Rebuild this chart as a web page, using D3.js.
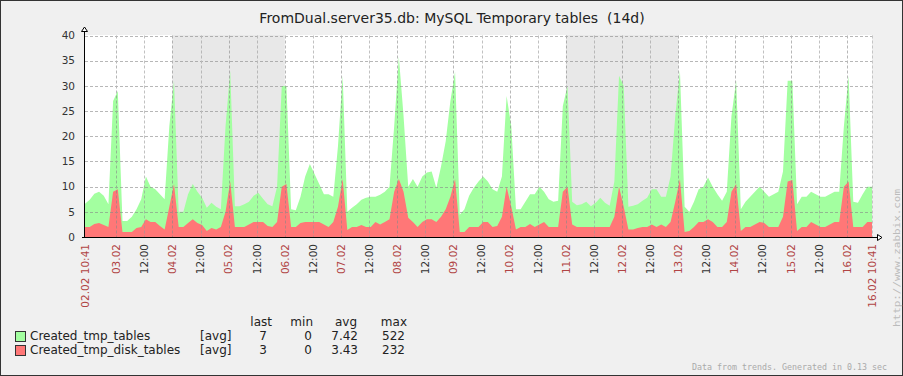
<!DOCTYPE html>
<html><head><meta charset="utf-8">
<script src="https://cdn.jsdelivr.net/npm/d3@7"></script>
<style>
html,body{margin:0;padding:0;background:#f0f0f0;}
svg{display:block;font-family:'DejaVu Sans',sans-serif;}
</style></head>
<body>
<svg id="chart" width="903" height="376"></svg>
<script>
// ---- data ----
const title = "FromDual.server35.db: MySQL Temporary tables  (14d)";
const startTime = Date.UTC(2012, 1, 2, 10, 41);
const stepHours = 2;
const totalHours = 336;
const yTicks = [0, 5, 10, 15, 20, 25, 30, 35, 40];
const weekendStarts = ["2012-02-04", "2012-02-11"];
const weekendDays = 2;

// one row = one day (12 samples, 2 h apart)
const tmpTables = [
  6.6, 7.4, 8.6, 9, 8.2, 6.5, 27, 29, 3.2, 3.2, 4, 5.5,
  7.5, 12, 10, 9.5, 8.5, 7.5, 22, 31, 5, 5, 8.5, 10.5,
  9, 7.8, 5.8, 6.8, 6, 5.5, 22, 33, 6.1, 6.1, 6.5, 7,
  8.2, 8.8, 7.6, 6.5, 6.1, 10, 30, 30, 5.5, 5.3, 8, 12,
  14.5, 12.5, 10.5, 8.5, 8.5, 8, 18, 32, 5, 5.8, 6.5, 7.4,
  7.8, 8, 8, 8.4, 9, 10, 22, 35.8, 24, 10, 11.5, 10,
  12, 12.8, 13, 9.8, 14, 19, 27, 32.8, 4.4, 5.5, 8.2, 9.8,
  11, 12, 11, 9.5, 9, 12, 28, 22, 5.5, 5.5, 7, 8.5,
  8.5, 10, 9, 7.5, 7, 7.2, 26, 30, 7, 6.3, 6.5, 7,
  6.1, 6.8, 7.8, 6.8, 6.2, 11, 32, 30, 6, 6.2, 6.5, 7.2,
  7.8, 9.5, 9.5, 8, 8, 12, 24, 33, 6, 5, 7, 9.5,
  10, 11.8, 10, 8.5, 7.2, 9, 24, 31, 5.5, 7, 8, 9,
  10, 9, 8, 8.5, 9, 13, 31, 31, 6.5, 8, 8, 9,
  8.5, 8, 8, 8.5, 9, 9, 22, 32, 7, 6.8, 8.5, 10,
  10
];
const tmpDiskTables = [
  2, 2, 2.6, 2.8, 2.4, 2, 9, 9.5, 1, 1, 1, 1.8,
  2, 3.5, 3, 3, 2.2, 1.5, 6, 10.5, 2, 2, 2.8, 3.5,
  2.8, 2.4, 1.2, 1.8, 1.5, 2, 5, 11, 2, 2, 2, 2.5,
  3, 3, 3, 2.2, 2, 3, 10, 10.5, 2, 2, 2.8, 3,
  3, 3, 3, 2.5, 2, 3, 6, 11.5, 1.4, 2, 2, 2.4,
  2, 2, 3, 2.5, 3, 3.5, 9, 11.5, 9, 3.8, 3, 2,
  3, 3.5, 3.5, 3, 4, 5.5, 8, 11.5, 1, 1, 2, 2,
  2, 3, 3, 2, 2.2, 4, 10, 6, 1.5, 2, 2, 2.6,
  2, 2.5, 3, 2, 2, 2, 9, 10, 2.5, 2, 2, 2,
  2, 2, 2, 2, 2, 4, 10, 6, 1.5, 1.5, 1.8, 2,
  2, 2.5, 2, 2.5, 2, 3, 7, 11.5, 1, 1.2, 2, 3,
  3, 3.5, 3, 2, 2, 3, 9, 10.5, 1.2, 2, 2, 2.5,
  3, 2.8, 2, 2, 2, 4, 11, 11.3, 1.2, 2, 2, 3,
  2.5, 2, 2, 2.5, 3, 3, 10, 11, 2, 2, 2, 3,
  3
];
const seriesNames = ["Created_tmp_tables", "Created_tmp_disk_tables"];
const seriesFunc = ["[avg]", "[avg]"];
const statHeaders = ["last", "min", "avg", "max"];
const statLast = ["7", "3"];
const statMin = ["0", "0"];
const statAvg = ["7.42", "3.43"];
const statMax = ["522", "232"];
const footer = "Data from trends. Generated in 0.13 sec";
const urlText = "http://www.zabbix.com";

// ---- styles ----
const GREEN = "#a3ffa0", RED = "#ff7777";
const DAYRED = "#b04444", TXT = "#222";

const svg = d3.select("#chart");
const W = 903, H = 376;
const L = 85, R = 872, T = 35.5, B = 237;

svg.append("rect").attr("x", 0.5).attr("y", 0.5).attr("width", W - 1).attr("height", H - 1)
  .attr("fill", "#f0f0f0").attr("stroke", "#333");

const t0 = new Date(startTime), t1 = new Date(startTime + totalHours * 3600e3);
const x = d3.scaleUtc().domain([t0, t1]).range([L, R]);
const y = d3.scaleLinear().domain([0, 40]).range([B, T]);

// plot background
svg.append("rect").attr("x", L).attr("y", T - 0.5).attr("width", R - L).attr("height", B - T + 0.5).attr("fill", "#fff");

// weekend shading
weekendStarts.forEach(s => {
  const a = new Date(s + "T00:00:00Z");
  const b = d3.utcDay.offset(a, weekendDays);
  svg.append("rect").attr("x", x(a)).attr("y", T - 0.5).attr("width", x(b) - x(a)).attr("height", B - T + 0.5)
    .attr("fill", "#e8e8e8");
});

// series
const mk = arr => arr.map((v, i) => ({ t: new Date(startTime + i * stepHours * 3600e3), v }));
const area = d3.area().x(d => x(d.t)).y0(y(0)).y1(d => y(d.v)).curve(d3.curveLinear);
svg.append("path").datum(mk(tmpTables)).attr("d", area).attr("fill", GREEN);
svg.append("path").datum(mk(tmpDiskTables)).attr("d", area).attr("fill", RED);

// grid
const g = svg.append("g").attr("opacity", 0.6);
yTicks.filter(v => v > 0).forEach(v => {
  const yy = Math.round(y(v)) + 0.5;
  g.append("line").attr("x1", L).attr("x2", R).attr("y1", yy).attr("y2", yy)
    .attr("stroke", "#888").attr("stroke-dasharray", "3,2");
});
const xTicks = d3.utcHour.every(12).range(d3.utcDay.ceil(t0), t1);
xTicks.forEach(t => {
  const xx = Math.round(x(t)) + 0.5;
  g.append("line").attr("x1", xx).attr("x2", xx).attr("y1", T).attr("y2", B)
    .attr("stroke", t.getUTCHours() === 0 ? "#888" : "#999").attr("stroke-dasharray", "3,2");
});
g.append("line").attr("x1", R + 0.5).attr("x2", R + 0.5).attr("y1", T).attr("y2", B)
  .attr("stroke", "#aaa").attr("stroke-dasharray", "3,2");

// axes
svg.append("line").attr("x1", 84.5).attr("x2", 84.5).attr("y1", 31).attr("y2", B + 1).attr("stroke", "#000");
svg.append("line").attr("x1", 82).attr("x2", 877).attr("y1", B + 0.5).attr("y2", B + 0.5).attr("stroke", "#000");
svg.append("path").attr("d", "M84.5,27 L81.5,31.5 L87.5,31.5 Z").attr("fill", "#fff").attr("stroke", "#000");
svg.append("path").attr("d", "M882,237.5 L877.5,234.5 L877.5,240.5 Z").attr("fill", "#fff").attr("stroke", "#000");

// y labels
yTicks.forEach(v => {
  svg.append("text").attr("x", 75).attr("y", y(v)).attr("dy", "0.36em").attr("text-anchor", "end")
    .attr("font-size", 10.5).attr("fill", "#333").text(v);
});

// x labels
const rot = (xx, txt, col) => svg.append("text")
  .attr("transform", `translate(${xx},244) rotate(-90)`).attr("dy", "0.36em")
  .attr("text-anchor", "end").attr("font-size", 10.5).attr("fill", col).text(txt);
xTicks.forEach(t => {
  const day = t.getUTCHours() === 0;
  rot(x(t), day ? d3.utcFormat("%d.%m")(t) : d3.utcFormat("%H:%M")(t), day ? DAYRED : "#333");
});
rot(x(t0), d3.utcFormat("%d.%m %H:%M")(t0), DAYRED);
rot(x(t1), d3.utcFormat("%d.%m %H:%M")(t1), DAYRED);

// title
svg.append("text").attr("x", 452).attr("y", 23).attr("text-anchor", "middle").attr("font-size", 14)
  .attr("fill", TXT).style("white-space", "pre").text(title);

// legend
const colsEnd = [272, 313, 357, 407];
statHeaders.forEach((h, i) => {
  svg.append("text").attr("x", colsEnd[i]).attr("y", 326).attr("text-anchor", "end")
    .attr("font-size", 12).attr("fill", TXT).text(h);
});
const valEnd = [267, 312, 358, 405];
const colors = [GREEN, RED];
const stats = [statLast, statMin, statAvg, statMax];
seriesNames.forEach((n, r) => {
  const by = 340 + r * 14;
  svg.append("rect").attr("x", 15.5).attr("y", by - 8.5).attr("width", 10).attr("height", 10)
    .attr("fill", colors[r]).attr("stroke", "#333");
  svg.append("text").attr("x", 30).attr("y", by).attr("font-size", 12).attr("fill", TXT).text(n);
  svg.append("text").attr("x", 200).attr("y", by).attr("font-size", 12).attr("fill", TXT).text(seriesFunc[r]);
  stats.forEach((s, c) => {
    svg.append("text").attr("x", valEnd[c]).attr("y", by).attr("text-anchor", "end")
      .attr("font-size", 12).attr("fill", TXT).text(s[r]);
  });
});

// footer and url
svg.append("text").attr("x", 692).attr("y", 370).attr("font-family", "'DejaVu Sans Mono',monospace")
  .attr("font-size", 8).attr("fill", "#aaa").attr("textLength", 195).attr("lengthAdjust", "spacingAndGlyphs").text(footer);
svg.append("text").attr("transform", "translate(900,327) rotate(-90)").attr("font-family", "'DejaVu Sans Mono',monospace")
  .attr("font-size", 8).attr("fill", "#bbb").attr("textLength", 138).attr("lengthAdjust", "spacingAndGlyphs").text(urlText);
</script>
</body></html>
